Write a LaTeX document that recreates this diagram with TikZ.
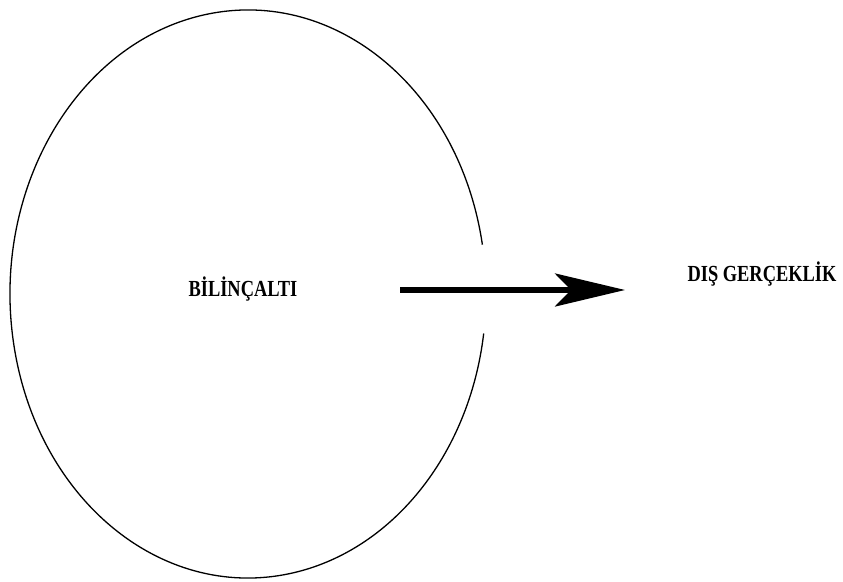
\documentclass[tikz,border=0pt]{standalone}
\usepackage{fontspec}
\setmainfont{Liberation Serif}
\usetikzlibrary{arrows.meta}
\newcommand{\tallbold}[1]{\scalebox{0.8}[1]{\bfseries\fontsize{23}{26}\selectfont #1}}
\tikzset{
  label text/.style={inner sep=0pt},
  flow/.style={line width=5.5pt, -{Stealth[length=70pt, width=33pt, inset=16pt]}}
}
\begin{document}
\begin{tikzpicture}[x=1pt, y=1pt]
  \useasboundingbox (0,0) rectangle (843,581);
  % oval, open where the arrow leaves it
  \draw[line width=1.3pt] ({248+238*cos(10)},{287+284*sin(10)})
    arc[start angle=10, end angle=352, x radius=238, y radius=284];
  \node[label text] (inner) at (243,292) {\tallbold{BİLİNÇALTI}};
  \node[label text] (outer) at (762,307) {\tallbold{DIŞ GERÇEKLİK}};
  \coordinate (from) at (400,291);
  \coordinate (to) at (625,291);
  \draw[flow] (from) -- (to);
\end{tikzpicture}
\end{document}
